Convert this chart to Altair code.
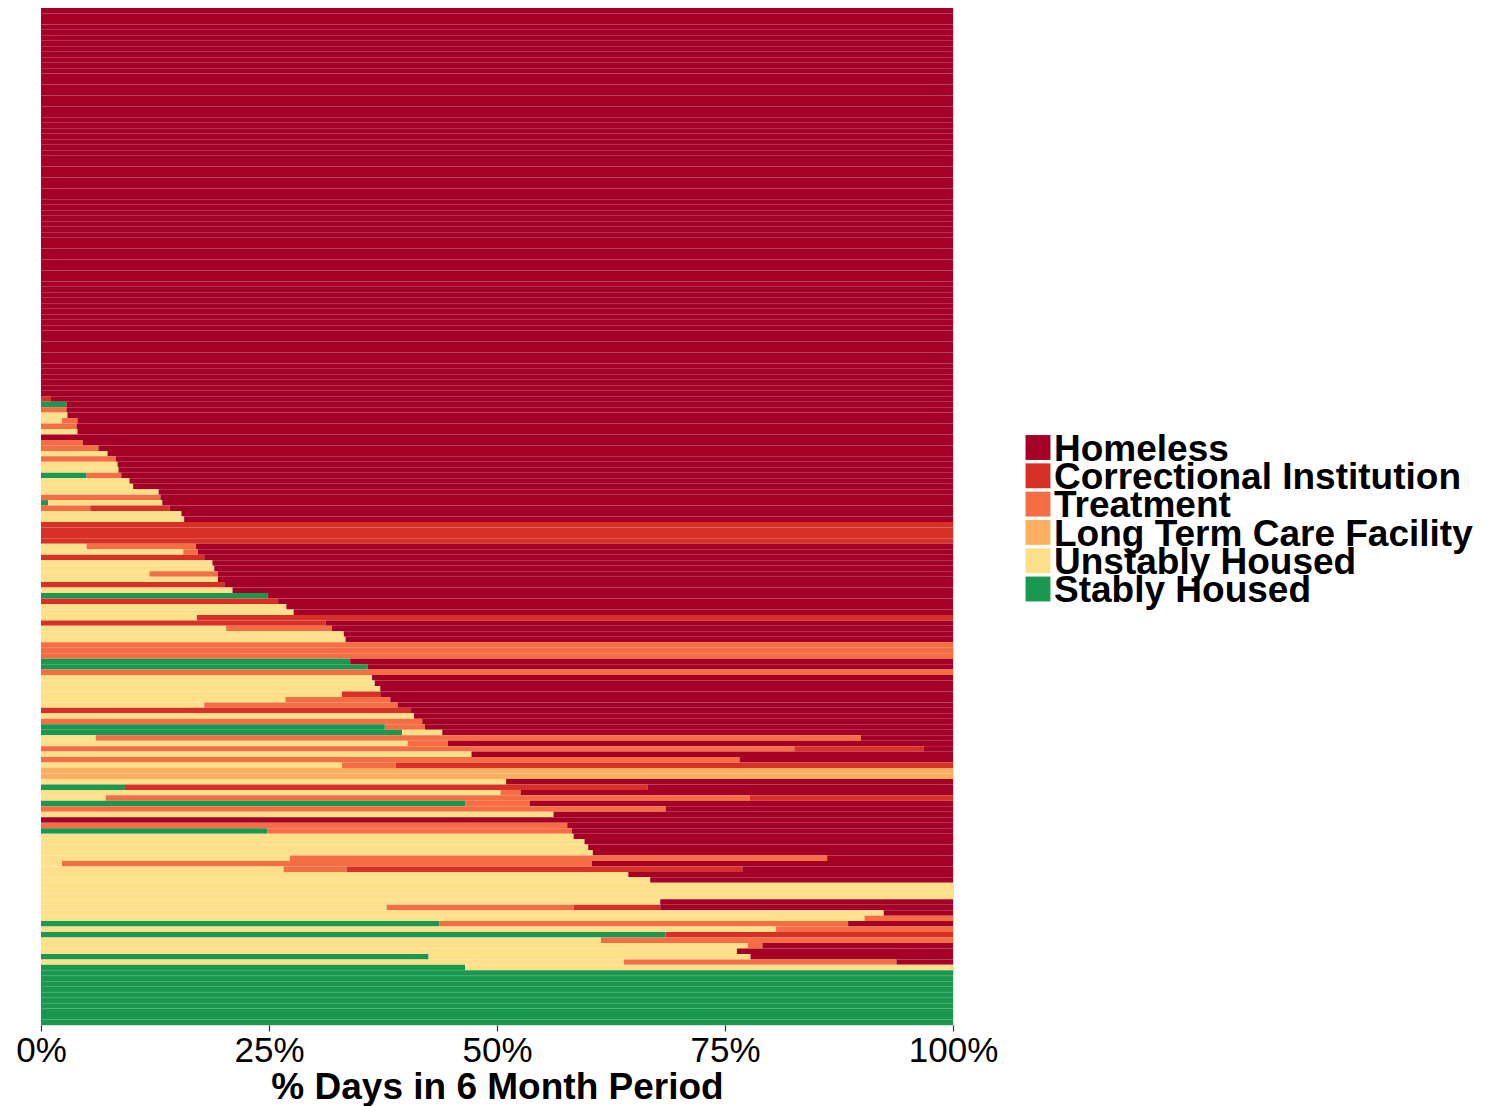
import altair as alt
import pandas as pd

# ---- categories & colours (legend order) ----
statuses = ["Homeless", "Correctional Institution", "Treatment",
            "Long Term Care Facility", "Unstably Housed", "Stably Housed"]
colors = ["#A50026", "#D73027", "#F46D43", "#FDAE61", "#FEE08B", "#1A9850"]

# ---- % days per participant (rows top -> bottom) ----
# top block: 71 participants fully homeless; bottom block: 10 fully stably housed
top_homeless = [100] * 71
bottom_stable = [100] * 10

mid_stable = [0, 2.8, 0, 0, 0, 0, 0, 0, 0, 0,
              0, 0, 0, 0, 5.0, 0, 0, 0, 0, 0.8,
              0, 0, 0, 0, 0, 0, 0, 0, 0, 0,
              0, 0, 0, 0, 0, 0, 24.9, 0, 0, 0,
              0, 0, 0, 0, 0, 0, 0, 0, 33.9, 35.8,
              0, 0, 0, 0, 0, 0, 0, 0, 0, 0,
              37.7, 39.6, 0, 0, 0, 0, 0, 0, 0, 0,
              0, 9.2, 0, 0, 46.5, 0, 0, 0, 0, 24.8,
              0, 0, 0, 0, 0, 0, 0, 0, 0, 0,
              0, 0, 0, 0, 0, 0, 43.7, 0, 68.5, 0,
              0, 0, 42.5, 0, 46.5]
mid_unstable = [0, 0, 0, 2.9, 2.3, 0, 4.0, 0, 0, 0,
                7.3, 0, 8.4, 8.5, 0, 9.7, 10.1, 12.9, 0, 12.5,
                0, 15.4, 15.7, 0, 0, 0, 0, 5.0, 15.6, 0,
                18.8, 19.0, 11.9, 19.4, 0, 21.0, 0, 0, 26.9, 27.7,
                17.1, 0, 20.3, 33.2, 33.4, 0, 0, 0, 0, 0,
                0, 36.3, 36.6, 37.2, 33.0, 26.8, 17.9, 0, 40.9, 0,
                0, 4.4, 6.0, 40.2, 0, 47.2, 0, 33.0, 0, 0,
                51.0, 0, 50.4, 7.1, 0, 0, 56.2, 0, 0, 0,
                58.4, 59.6, 60.0, 60.5, 27.3, 2.3, 26.6, 64.4, 66.8, 100,
                100, 100, 67.9, 37.9, 92.4, 90.3, 0, 80.6, 0, 61.4,
                77.5, 76.3, 35.3, 63.9, 53.5]
mid_ltc = [0, 0, 0, 0, 0, 0, 0, 0, 0, 0,
           0, 0, 0, 0, 0, 0, 0, 0, 0, 0,
           0, 0, 0, 0, 0, 0, 0, 0, 0, 0,
           0, 0, 0, 0, 0, 0, 0, 0, 0, 0,
           0, 0, 0, 0, 0, 0, 0, 0, 0, 0,
           0, 0, 0, 0, 0, 0, 0, 0, 0, 0,
           0, 0, 0, 0, 0, 0, 0, 0, 100, 100,
           0, 0, 0, 0, 0, 0, 0, 0, 0, 0,
           0, 0, 0, 0, 0, 0, 0, 0, 0, 0,
           0, 0, 0, 0, 0, 0, 0, 0, 0, 0,
           0, 0, 0, 0, 0]
mid_treatment = [0, 0, 2.8, 0, 1.7, 3.9, 0, 0, 4.6, 6.3,
                 0, 8.2, 0, 0, 3.8, 0, 0, 0, 13.1, 0,
                 5.4, 0, 0, 0, 0, 0, 0, 12.0, 1.6, 0,
                 0, 0, 7.5, 0, 0, 0, 0, 0, 0, 0,
                 0, 0, 11.6, 0, 0, 100, 100, 100, 0, 0,
                 100, 0, 0, 0, 0, 11.5, 21.2, 0, 0, 41.8,
                 4.4, 0, 83.9, 4.4, 82.6, 0, 76.6, 5.9, 0, 0,
                 0, 0, 2.2, 70.6, 7.1, 68.5, 0, 0, 57.7, 33.4,
                 0, 0, 0, 0, 58.9, 58.1, 6.9, 0, 0, 0,
                 0, 0, 0, 20.5, 0, 9.7, 44.8, 19.4, 0, 38.6,
                 1.6, 0, 0, 29.9, 0]
mid_correctional = [1.1, 0, 0, 0, 0, 0, 0, 0, 0, 0,
                    0, 0, 0, 0, 0, 0, 0, 0, 0, 0,
                    8.7, 0, 0, 100, 100, 100, 100, 0, 0, 17.9,
                    0, 0, 0, 0, 20.1, 0, 0, 26.0, 0, 0,
                    82.9, 31.2, 0, 0, 0, 0, 0, 0, 0, 0,
                    0, 0, 0, 0, 4.2, 0, 0, 40.5, 0, 0,
                    0, 0, 0, 0, 14.2, 0, 0, 61.1, 0, 0,
                    0, 57.3, 0, 22.3, 0, 0, 0, 0, 0, 0,
                    0, 0, 0, 0, 0, 0, 43.4, 0, 0, 0,
                    0, 0, 0, 9.5, 0, 0, 0, 0, 31.5, 0,
                    0, 0, 0, 0, 0]
mid_homeless = [98.9, 97.2, 97.2, 97.1, 96.0, 96.1, 96.0, 100, 95.4, 93.7,
                92.7, 91.8, 91.6, 91.5, 91.2, 90.3, 89.9, 87.1, 86.9, 86.7,
                85.9, 84.6, 84.3, 0, 0, 0, 0, 83.0, 82.8, 82.1,
                81.2, 81.0, 80.6, 80.6, 79.9, 79.0, 75.1, 74.0, 73.1, 72.3,
                0, 68.8, 68.1, 66.8, 66.6, 0, 0, 0, 66.1, 64.2,
                0, 63.7, 63.4, 62.8, 62.8, 61.7, 60.9, 59.5, 59.1, 58.2,
                57.9, 56.0, 10.1, 55.4, 3.2, 52.8, 23.4, 0, 0, 0,
                49.0, 33.5, 47.4, 0, 46.4, 31.5, 43.8, 100, 42.3, 41.8,
                41.6, 40.4, 40.0, 39.5, 13.8, 39.6, 23.1, 35.6, 33.2, 0,
                0, 0, 32.1, 32.1, 7.6, 0, 11.5, 0, 0, 0,
                20.9, 23.7, 22.2, 6.2, 0]

n_top = len(top_homeless)
n_bot = len(bottom_stable)
stable = [0] * n_top + mid_stable + bottom_stable
unstable = [0] * n_top + mid_unstable + [0] * n_bot
ltc = [0] * n_top + mid_ltc + [0] * n_bot
treatment = [0] * n_top + mid_treatment + [0] * n_bot
correctional = [0] * n_top + mid_correctional + [0] * n_bot
homeless = top_homeless + mid_homeless + [0] * n_bot

# stacking order from the left edge
series = [("Stably Housed", stable), ("Unstably Housed", unstable),
          ("Long Term Care Facility", ltc), ("Treatment", treatment),
          ("Correctional Institution", correctional), ("Homeless", homeless)]

records = []
for i in range(len(homeless)):
    for k, (name, vals) in enumerate(series):
        if vals[i] > 0:
            records.append({"row": i, "status": name, "pct": vals[i], "stack_order": k})
df = pd.DataFrame(records)
legend_df = pd.DataFrame({"status": statuses})

FONT = "Liberation Sans"
color_scale = alt.Scale(domain=statuses, range=colors)

bars = alt.Chart(df).mark_bar(strokeWidth=0).encode(
    x=alt.X("pct:Q", stack="zero",
            scale=alt.Scale(domain=[0, 100], nice=False, clamp=True),
            axis=alt.Axis(values=[0, 25, 50, 75, 100], labelExpr="datum.value + '%'",
                          title="% Days in 6 Month Period", grid=False, domain=False,
                          ticks=True, tickColor="#333333", tickSize=6, tickWidth=1.2,
                          labelFontSize=35, labelFont=FONT, labelColor="black",
                          labelPadding=2, labelFlush=False,
                          titleFontSize=37, titleFont=FONT, titleFontWeight="bold",
                          titleColor="black", titlePadding=1)),
    y=alt.Y("row:O", axis=None, sort="ascending",
            scale=alt.Scale(paddingInner=0, paddingOuter=0)),
    color=alt.Color("status:N", scale=color_scale, legend=None),
    order=alt.Order("stack_order:Q", sort="ascending"),
)

# legend (tightly packed keys, as in the reference)
legend_y = alt.Y("status:N", axis=None, sort=statuses,
                 scale=alt.Scale(type="point", domain=statuses, range=[439.5, 581], padding=0))

keys = alt.Chart(legend_df).mark_square(size=620, opacity=1, strokeWidth=0).encode(
    x=alt.value(997),
    y=legend_y,
    color=alt.Color("status:N", scale=color_scale, legend=None),
)

key_labels = alt.Chart(legend_df).mark_text(
    align="left", baseline="alphabetic", dy=13.2,
    font=FONT, fontSize=37, fontWeight="bold", color="black",
).encode(
    x=alt.value(1013),
    y=legend_y,
    text="status:N",
)

chart = alt.layer(bars, keys, key_labels).resolve_scale(y="independent").properties(
    width=912, height=1017,
    autosize=alt.AutoSizeParams(type="none"),
    padding={"left": 33, "top": 0, "right": 527, "bottom": 81},
).configure_view(strokeWidth=0).configure(background="white")

chart.save("out.html", embed_options={"renderer": "svg", "actions": False})
